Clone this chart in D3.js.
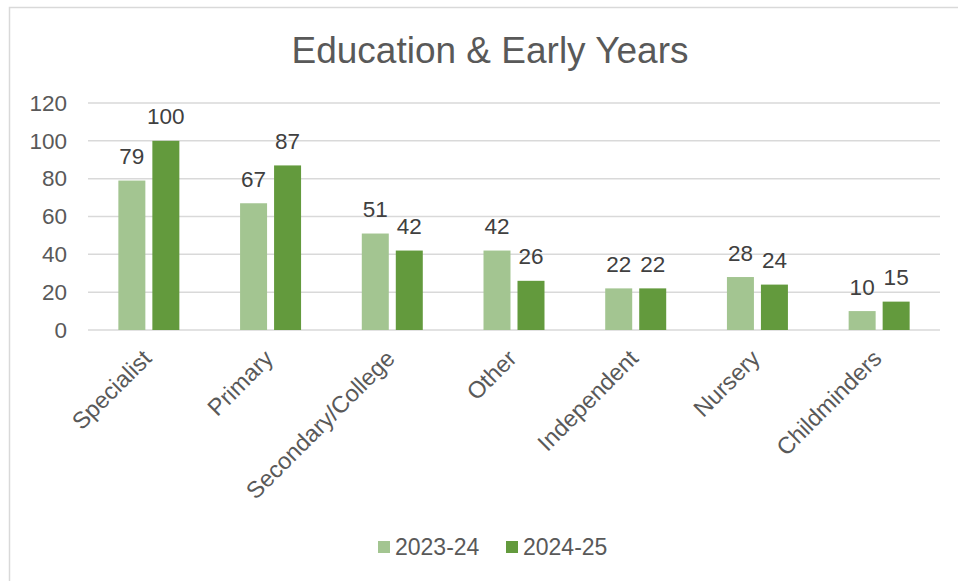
<!DOCTYPE html>
<html>
<head>
<meta charset="utf-8">
<script src="https://cdn.jsdelivr.net/npm/d3@7"></script>
<style>
  body { margin: 0; background: #fff; }
  svg { display: block; font-family: "Liberation Sans", Arial, sans-serif; }
</style>
</head>
<body>
<svg id="chart" width="958" height="581"></svg>
<script>
/* ================================
   DATA
================================ */

const categories = ["Specialist", "Primary", "Secondary/College", "Other", "Independent", "Nursery", "Childminders"];
const seriesNames = ["2023-24", "2024-25"];
const values2324 = [79, 67, 51, 42, 22, 28, 10];
const values2425 = [100, 87, 42, 26, 22, 24, 15];
const yTicks = [0, 20, 40, 60, 80, 100, 120];
const colors = ["#a3c591", "#639a3d"];

/* ================================
   CHART
================================ */

const svg = d3.select("#chart");
const margin = { left: 88, right: 18, top: 103, bottom: 251 };
const width = 958, height = 581;

// chart area border
svg.append("rect")
  .attr("x", 9.5).attr("y", 7.5)
  .attr("width", 980).attr("height", 600)
  .attr("fill", "#fff")
  .attr("stroke", "#d9d9d9")
  .attr("stroke-width", 1.5);

svg.append("text")
  .attr("x", 490)
  .attr("y", 63)
  .attr("text-anchor", "middle")
  .style("font-size", "37px")
  .style("fill", "#595959")
  .text("Education & Early Years");

const x0 = d3.scaleBand()
  .domain(categories)
  .range([margin.left, width - margin.right])
  .paddingInner(0).paddingOuter(0);

const x1 = d3.scaleBand()
  .domain(seriesNames)
  .range([0, x0.bandwidth()])
  .paddingInner(0.206)
  .paddingOuter(0.893);

const y = d3.scaleLinear()
  .domain([0, 120])
  .range([height - margin.bottom, margin.top]);

// gridlines
svg.append("g")
  .selectAll("line")
  .data(yTicks)
  .join("line")
  .attr("x1", margin.left)
  .attr("x2", width - margin.right)
  .attr("y1", d => y(d))
  .attr("y2", d => y(d))
  .attr("stroke", "#d9d9d9")
  .attr("stroke-width", 1.5);

// y axis labels
const yAxis = svg.append("g")
  .attr("transform", `translate(${margin.left - 21},0)`)
  .call(d3.axisLeft(y).tickValues(yTicks).tickSize(0).tickPadding(0));
yAxis.select(".domain").remove();
yAxis.selectAll("text")
  .style("font-size", "22.5px")
  .style("font-family", "Liberation Sans, Arial, sans-serif")
  .style("fill", "#595959");

// bars
const rows = categories.map((c, i) => ({ cat: c, vals: [values2324[i], values2425[i]] }));

const groups = svg.append("g")
  .selectAll("g")
  .data(rows)
  .join("g")
  .attr("transform", d => `translate(${x0(d.cat)},0)`);

groups.selectAll("rect")
  .data(d => d.vals.map((v, j) => ({ s: seriesNames[j], v, j })))
  .join("rect")
  .attr("x", d => x1(d.s))
  .attr("y", d => y(d.v))
  .attr("width", x1.bandwidth())
  .attr("height", d => y(0) - y(d.v))
  .attr("fill", d => colors[d.j]);

// data labels
groups.selectAll("text")
  .data(d => d.vals.map((v, j) => ({ s: seriesNames[j], v, j })))
  .join("text")
  .attr("x", d => x1(d.s) + x1.bandwidth() / 2)
  .attr("y", d => y(d.v) - 16.5)
  .attr("text-anchor", "middle")
  .style("font-size", "22.5px")
  .style("fill", "#404040")
  .text(d => d.v);

// x axis category labels
svg.append("g")
  .selectAll("text")
  .data(categories)
  .join("text")
  .attr("transform", d => `translate(${x0(d) + x0.bandwidth() / 2 + 4},360) rotate(-45)`)
  .attr("text-anchor", "end")
  .style("font-size", "23.5px")
  .style("fill", "#595959")
  .text(d => d);

// legend
const legend = svg.append("g")
  .selectAll("g")
  .data(seriesNames)
  .join("g")
  .attr("transform", (d, i) => `translate(${378 + i * 128},541)`);

legend.append("rect")
  .attr("width", 12).attr("height", 12)
  .attr("fill", (d, i) => colors[i]);

legend.append("text")
  .attr("x", 17)
  .attr("y", 14)
  .style("font-size", "23px")
  .style("fill", "#595959")
  .text(d => d);
</script>
</body>
</html>
